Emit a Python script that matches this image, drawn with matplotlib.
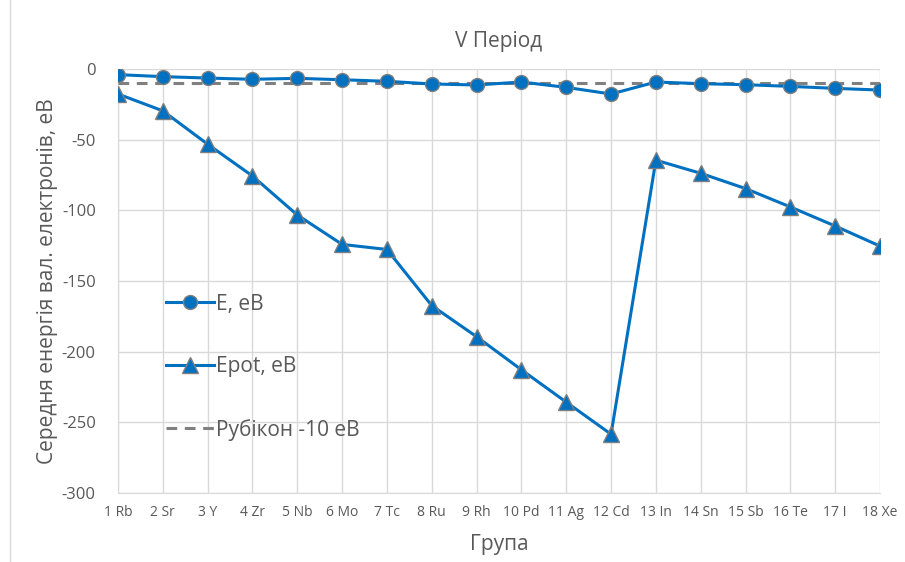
import numpy as np
import matplotlib.pyplot as plt

plt.rcParams['font.family'] = ['Open Sans', 'DejaVu Sans']
plt.rcParams['axes.unicode_minus'] = False

groups = ["1 Rb", "2 Sr", "3 Y", "4 Zr", "5 Nb", "6 Mo", "7 Tc", "8 Ru", "9 Rh",
          "10 Pd", "11 Ag", "12 Cd", "13 In", "14 Sn", "15 Sb", "16 Te", "17 I", "18 Xe"]
e_total = [-4.0, -5.4, -6.4, -7.3, -6.6, -7.6, -8.7, -10.6, -11.3,
           -9.2, -13.0, -17.7, -9.2, -10.4, -11.1, -12.3, -13.7, -14.9]
e_pot = [-17.7, -29.6, -53.2, -75.7, -103.3, -124.1, -127.7, -167.4, -189.4,
         -212.8, -235.7, -258.4, -64.5, -73.8, -84.6, -97.6, -111.1, -125.3]
rubicon = [-10] * len(groups)

blue = "#0070C0"
edge = "#7F7F7F"
grid_c = "#D9D9D9"
text_c = "#595959"

fig = plt.figure(figsize=(9.05, 5.62), dpi=100)
ax = fig.add_axes([118 / 905, 69 / 562, 762 / 905, 424 / 562])
x = np.arange(len(groups))

ax.plot(x, e_total, color=blue, lw=2.2, marker="o", ms=10,
        mfc=blue, mec=edge, mew=1, label="E, еВ", zorder=4)
ax.plot(x, e_pot, color=blue, lw=2.2, marker="^", ms=11,
        mfc=blue, mec=edge, mew=1, label="Epot, еВ", zorder=4)
ax.plot(x, rubicon, color="#808080", lw=2.2, ls=(0, (3.5, 2.5)),
        label="Рубікон -10 еВ", zorder=3)

ax.set_xlim(0, len(groups) - 1)
ax.set_ylim(-300, 0)
ax.set_yticks(np.arange(-300, 1, 50))
ax.set_xticks(x)
ax.set_xticklabels(groups)
ax.grid(True, color=grid_c, lw=1)
ax.set_axisbelow(True)
for s in ["top", "right"]:
    ax.spines[s].set_visible(False)
for s in ["left", "bottom"]:
    ax.spines[s].set_color(grid_c)
ax.tick_params(length=0, colors=text_c)
ax.tick_params(axis="y", labelsize=12, pad=16)
ax.tick_params(axis="x", labelsize=10, pad=9)

ax.set_title("V Період", fontsize=15, color=text_c, pad=16)
ax.set_xlabel("Група", fontsize=15, color=text_c, labelpad=10)
ax.set_ylabel("Середня енергія вал. електронів, еВ", fontsize=15,
              color=text_c, labelpad=3)

leg = ax.legend(loc="upper left", bbox_to_anchor=(0.052, 0.49), frameon=False,
                fontsize=15, labelspacing=2.0, handlelength=2.3,
                handletextpad=0.1, borderaxespad=0)
for t in leg.get_texts():
    t.set_color(text_c)

fig.add_artist(plt.Line2D([10 / 905, 10 / 905], [0, 1], color=grid_c, lw=1))

fig.savefig("out.png", dpi=100)
